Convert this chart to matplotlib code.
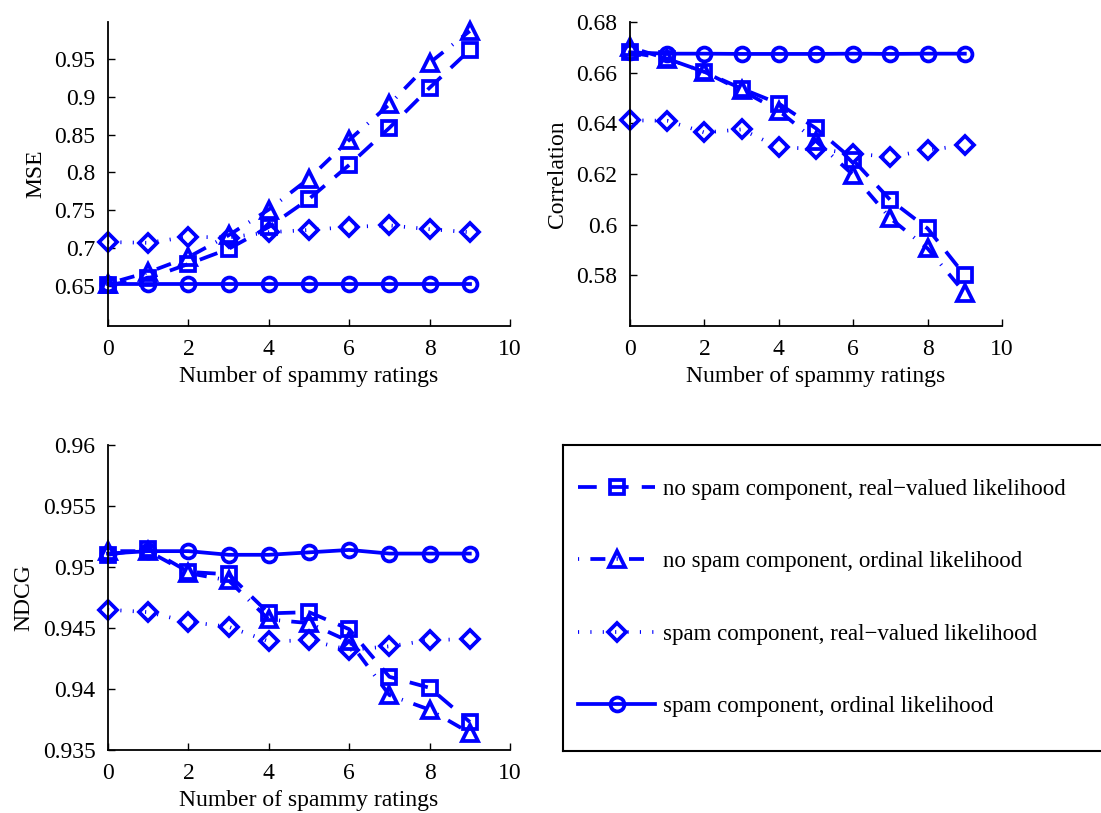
import numpy as np
import matplotlib
matplotlib.use('Agg')
import matplotlib.pyplot as plt

plt.rcParams['font.family'] = ['Liberation Serif', 'DejaVu Serif']
plt.rcParams['font.size'] = 17

# data
n_spammy = [0, 1, 2, 3, 4, 5, 6, 7, 8, 9]

mse_sq = [0.651, 0.660, 0.679, 0.699, 0.728, 0.765, 0.810, 0.859, 0.912, 0.962]
mse_tri = [0.653, 0.668, 0.688, 0.717, 0.751, 0.792, 0.843, 0.890, 0.945, 0.987]
mse_dia = [0.708, 0.707, 0.715, 0.714, 0.721, 0.724, 0.728, 0.730, 0.725, 0.721]
mse_circ = [0.653, 0.653, 0.653, 0.653, 0.653, 0.653, 0.653, 0.653, 0.653, 0.653]

corr_sq = [0.668, 0.6655, 0.6603, 0.6537, 0.6478, 0.638, 0.6255, 0.6097, 0.5985, 0.580]
corr_tri = [0.670, 0.6655, 0.6603, 0.653, 0.645, 0.633, 0.6196, 0.6025, 0.5906, 0.573]
corr_dia = [0.6412, 0.641, 0.6364, 0.6376, 0.6305, 0.630, 0.628, 0.6268, 0.6294, 0.6314]
corr_circ = [0.668, 0.6675, 0.6675, 0.6674, 0.6674, 0.6674, 0.6675, 0.6674, 0.6675, 0.6675]

ndcg_sq = [0.9510, 0.9515, 0.9496, 0.9494, 0.9462, 0.9463, 0.9449, 0.9410, 0.9401, 0.9373]
ndcg_tri = [0.9513, 0.9513, 0.9495, 0.9489, 0.9457, 0.9454, 0.9439, 0.9395, 0.9383, 0.9364]
ndcg_dia = [0.9465, 0.9463, 0.9455, 0.9451, 0.9439, 0.9440, 0.9432, 0.9435, 0.9440, 0.9441]
ndcg_circ = [0.9511, 0.9513, 0.9513, 0.9510, 0.9510, 0.9512, 0.9514, 0.9511, 0.9511, 0.9511]

labels = ['no spam component, real\u2212valued likelihood',
          'no spam component, ordinal likelihood',
          'spam component, real\u2212valued likelihood',
          'spam component, ordinal likelihood']

x_ticks = [0, 2, 4, 6, 8, 10]
mse_ticks = [0.65, 0.7, 0.75, 0.8, 0.85, 0.9, 0.95]
corr_ticks = [0.58, 0.6, 0.62, 0.64, 0.66, 0.68]
ndcg_ticks = [0.935, 0.94, 0.945, 0.95, 0.955, 0.96]

blue = '#0000ff'
styles = [dict(ls=(0, (5, 3.5)), marker='s'),
          dict(ls=(0, (0.3, 3, 4, 3)), marker='^'),
          dict(ls=(0, (0.3, 3)), marker='D'),
          dict(ls='-', marker='o')]
msizes = [10, 12, 9, 10]


def draw_panel(ax, series, ylabel, yticks, ylim):
  lines = []
  for s, st, ms in zip(series, styles, msizes):
    l, = ax.plot(n_spammy, s, color=blue, lw=2.7, ls=st['ls'], marker=st['marker'],
                 ms=ms, mfc='none', mec=blue, mew=2.7, dash_capstyle='butt', clip_on=False)
    lines.append(l)
  ax.set_xlim(0, 10)
  ax.set_ylim(*ylim)
  ax.set_xticks(x_ticks)
  ax.set_yticks(yticks)
  ax.set_yticklabels(['%g' % t for t in yticks])
  ax.set_xlabel('Number of spammy ratings', labelpad=5)
  ax.set_ylabel(ylabel, labelpad=6)
  ax.spines['top'].set_visible(False)
  ax.spines['right'].set_visible(False)
  ax.tick_params(direction='in', length=5, width=1, pad=9)
  for sp in ax.spines.values():
    sp.set_linewidth(1.3)
  return lines


fig = plt.figure(figsize=(11.01, 8.13), dpi=100)

ax1 = fig.add_axes([108/1101, 1-326/813, 402/1101, 304/813])
lines = draw_panel(ax1, [mse_sq, mse_tri, mse_dia, mse_circ], 'MSE', mse_ticks, (0.597, 0.999))

ax2 = fig.add_axes([630/1101, 1-326/813, 372/1101, 304/813])
draw_panel(ax2, [corr_sq, corr_tri, corr_dia, corr_circ], 'Correlation', corr_ticks, (0.56, 0.68))

ax3 = fig.add_axes([108/1101, 1-750/813, 402/1101, 305/813])
draw_panel(ax3, [ndcg_sq, ndcg_tri, ndcg_dia, ndcg_circ], 'NDCG', ndcg_ticks, (0.935, 0.96))

# legend box, right edge runs off the figure like in the reference
axl = fig.add_axes([563/1101, 1-751/813, 560/1101, 306/813])
axl.set_xticks([])
axl.set_yticks([])
for sp in axl.spines.values():
  sp.set_linewidth(1.5)
axl.legend(lines, labels, loc='center left', bbox_to_anchor=(0.011, 0.5), frameon=False,
           handlelength=3.36, handletextpad=0.35, labelspacing=2.23, numpoints=1, fontsize=16.5,
           borderaxespad=0)

fig.savefig('out.png', dpi=100)
